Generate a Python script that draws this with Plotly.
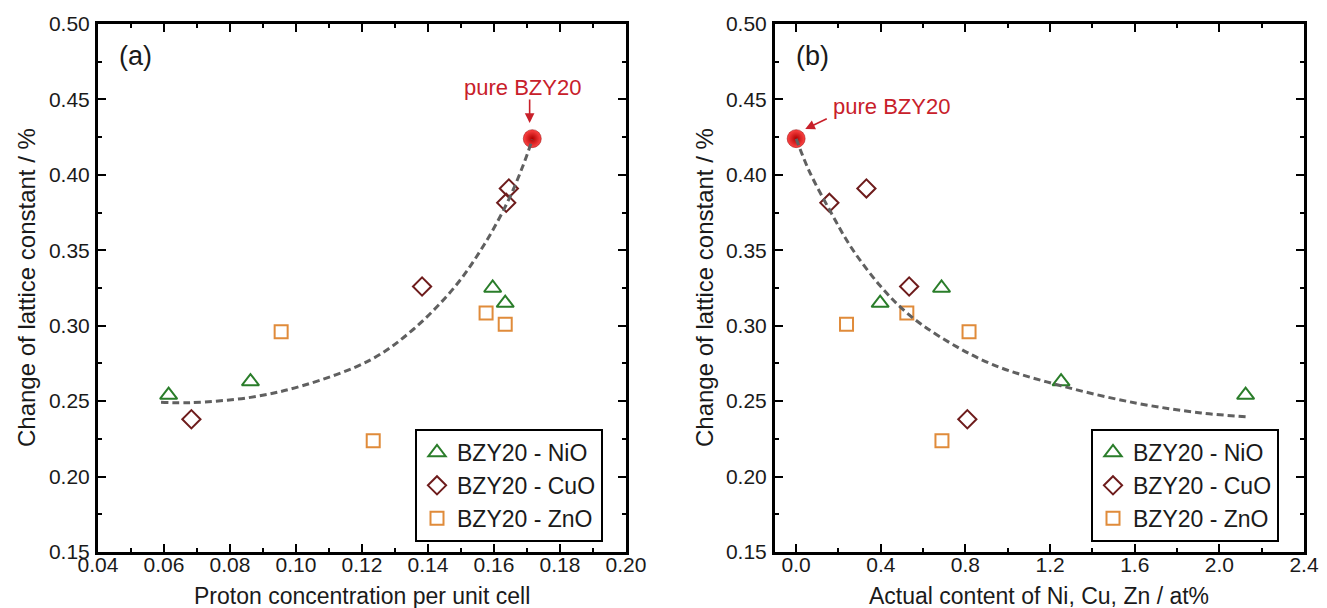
import plotly.graph_objects as go

# ---------------- data ----------------
# change of lattice constant (%) for each sample, shared by both panels
ni_dlat = [0.254, 0.263, 0.325, 0.315]
cu_dlat = [0.238, 0.326, 0.391, 0.3815]
zn_dlat = [0.296, 0.2237, 0.3085, 0.301]

# panel (a): proton concentration per unit cell
ni_proton = [0.0614, 0.0862, 0.1596, 0.1634]
cu_proton = [0.0683, 0.1382, 0.1645, 0.1637]
zn_proton = [0.0955, 0.1234, 0.1576, 0.1634]

# panel (b): actual content of Ni, Cu, Zn (at%)
ni_content = [2.124, 1.252, 0.687, 0.397]
cu_content = [0.809, 0.534, 0.332, 0.157]
zn_content = [0.817, 0.689, 0.523, 0.238]

# pure BZY20
pure_proton = [0.1716]
pure_content = [0.0]
pure_dlat = [0.424]

# dashed trend curves
fit_a_x = [0.0591, 0.068, 0.0862, 0.1024, 0.1227, 0.1355, 0.1482, 0.1571, 0.1641, 0.1686, 0.1716]
fit_a_y = [0.2492, 0.249, 0.2525, 0.2605, 0.2775, 0.2975, 0.326, 0.354, 0.382, 0.405, 0.4234]
fit_b_x = [0.0, 0.06, 0.157, 0.262, 0.397, 0.523, 0.684, 0.926, 1.252, 1.611, 1.913, 2.124]
fit_b_y = [0.424, 0.403, 0.377, 0.3515, 0.3265, 0.3085, 0.2923, 0.2744, 0.2602, 0.2486, 0.2422, 0.2397]

series_names = ["BZY20 - NiO", "BZY20 - CuO", "BZY20 - ZnO"]
label_a = "(a)"
label_b = "(b)"
pure_label = "pure BZY20"
xtitle_a = "Proton concentration per unit cell"
xtitle_b = "Actual content of Ni, Cu, Zn / at%"
ytitle = "Change of lattice constant / %"

# ---------------- styles ----------------
FONT = "Liberation Sans, Arial, sans-serif"
C_NI = "#2a7d2a"
C_CU = "#6e1c1c"
C_ZN = "#e08b3a"
C_RED = "#c8202a"
C_FIT = "#606060"
TXT = "#1a1a1a"
W, H = 1327, 608

fig = go.Figure()

def add_panel(xs, xaxis, yaxis, legend, pure_x, fit_x, fit_y):
    ni_x, cu_x, zn_x = xs
    fig.add_trace(go.Scatter(
        x=ni_x, y=ni_dlat, mode="markers", name=series_names[0],
        xaxis=xaxis, yaxis=yaxis, legend=legend,
        marker=dict(symbol="triangle-up-open", size=15, color=C_NI, line=dict(width=2, color=C_NI))))
    fig.add_trace(go.Scatter(
        x=cu_x, y=cu_dlat, mode="markers", name=series_names[1],
        xaxis=xaxis, yaxis=yaxis, legend=legend,
        marker=dict(symbol="diamond-open", size=14, color=C_CU, line=dict(width=2, color=C_CU))))
    fig.add_trace(go.Scatter(
        x=zn_x, y=zn_dlat, mode="markers", name=series_names[2],
        xaxis=xaxis, yaxis=yaxis, legend=legend,
        marker=dict(symbol="square-open", size=13, color=C_ZN, line=dict(width=2, color=C_ZN))))
    fig.add_trace(go.Scatter(
        x=pure_x, y=pure_dlat, mode="markers", showlegend=False,
        xaxis=xaxis, yaxis=yaxis,
        marker=dict(symbol="circle", size=18, color="#ff4545",
                    gradient=dict(type="radial", color="#b00000"),
                    line=dict(width=0.5, color="#900000"))))
    fig.add_trace(go.Scatter(
        x=fit_x, y=fit_y, mode="lines", showlegend=False,
        xaxis=xaxis, yaxis=yaxis,
        line=dict(color=C_FIT, width=3, dash="7px,4px", shape="spline")))

add_panel((ni_proton, cu_proton, zn_proton), "x", "y", "legend", pure_proton, fit_a_x, fit_a_y)
add_panel((ni_content, cu_content, zn_content), "x2", "y2", "legend2", pure_content, fit_b_x, fit_b_y)

axis_common = dict(
    showline=True, linecolor="black", linewidth=3, mirror="allticks",
    ticks="inside", ticklen=8, tickwidth=2, tickcolor="black",
    showgrid=False, zeroline=False, automargin=False,
    tickfont=dict(family=FONT, size=21, color=TXT),
)
minor_common = dict(ticks="inside", ticklen=4, tickwidth=2, tickcolor="black")

y_dom = [1 - 544 / H, 1 - 16 / H]

def paper_text(text, px, py, size, color=TXT, angle=0):
    return dict(text=text, xref="paper", yref="paper", x=px / W, y=1 - py / H,
                xanchor="center", yanchor="middle", showarrow=False, textangle=angle,
                font=dict(family=FONT, size=size, color=color))

fig.update_layout(
    width=W, height=H,
    margin=dict(l=0, r=0, t=0, b=0),
    paper_bgcolor="white", plot_bgcolor="white",
    font=dict(family=FONT, color=TXT),
    xaxis=dict(axis_common, domain=[90 / W, 618 / W], range=[0.04, 0.20],
               dtick=0.02, tick0=0.04, tickformat=".2f", ticklabelstandoff=-8,
               minor=dict(minor_common, dtick=0.01, tick0=0.04), anchor="y"),
    yaxis=dict(axis_common, domain=y_dom, range=[0.15, 0.50], dtick=0.05, tick0=0.15,
               tickformat=".2f", ticklabelstandoff=1,
               minor=dict(minor_common, dtick=0.025, tick0=0.15), anchor="x"),
    xaxis2=dict(axis_common, domain=[767 / W, 1296 / W], range=[-0.1, 2.4],
                dtick=0.4, tick0=0, tickformat=".1f", ticklabelstandoff=-8,
                minor=dict(minor_common, dtick=0.2, tick0=0), anchor="y2"),
    yaxis2=dict(axis_common, domain=y_dom, range=[0.15, 0.50], dtick=0.05, tick0=0.15,
                tickformat=".2f", ticklabelstandoff=1,
                minor=dict(minor_common, dtick=0.025, tick0=0.15), anchor="x2"),
    legend=dict(x=407 / W, y=1 - 421 / H, xanchor="left", yanchor="top",
                bgcolor="white", bordercolor="black", borderwidth=2,
                font=dict(family=FONT, size=23, color=TXT)),
    legend2=dict(x=1083 / W, y=1 - 421 / H, xanchor="left", yanchor="top",
                 bgcolor="white", bordercolor="black", borderwidth=2,
                 font=dict(family=FONT, size=23, color=TXT)),
    annotations=[
        paper_text(xtitle_a, 354, 588, 23),
        paper_text(xtitle_b, 1031, 588, 23),
        paper_text(ytitle, 18, 280, 24, angle=-90),
        paper_text(ytitle, 696, 280, 24, angle=-90),
        paper_text(label_a, 127, 48, 27),
        paper_text(label_b, 804, 48, 27),
        # panel (a) label and arrow
        paper_text(pure_label, 514, 79, 22, color=C_RED),
        dict(text="", xref="x", yref="y", x=0.1708, y=0.4344, ax=0, ay=-25,
             showarrow=True, arrowhead=2, arrowsize=1.2, arrowwidth=1.6, arrowcolor=C_RED),
        # panel (b) label and arrow
        paper_text(pure_label, 883, 99, 22, color=C_RED),
        dict(text="", xref="x2", yref="y2", x=0.043, y=0.4304, ax=23, ay=-11,
             showarrow=True, arrowhead=2, arrowsize=1.2, arrowwidth=1.6, arrowcolor=C_RED),
    ],
)

fig.write_html("out.html")
